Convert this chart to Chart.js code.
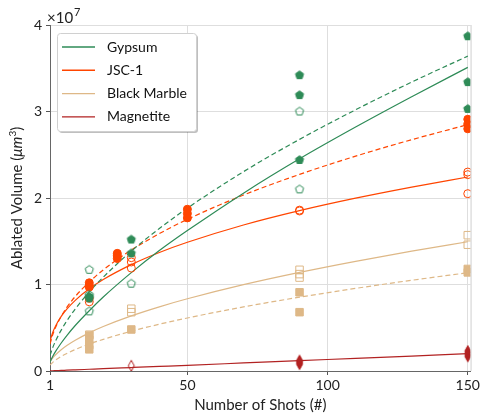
<!DOCTYPE html>
<html>
<head>
<meta charset="utf-8">
<script src="https://cdn.jsdelivr.net/npm/chart.js@4.4.1/dist/chart.umd.min.js"></script>
<style>
  html, body { margin: 0; padding: 0; background: #fff; }
</style>
</head>
<body>
<canvas id="chart" width="482" height="419"></canvas>
<script>
// values in units of 1e7 um^3 (the axis carries the x10^7 factor)
const legendNames = ['Gypsum', 'JSC-1', 'Black Marble', 'Magnetite'];
const colors = ['#2e8b57', '#ff4500', '#deb887', '#b22222'];
const xTicks = [1, 50, 100, 150];
const yTicks = [0, 1, 2, 3, 4];

const gypsumFilledX = [15, 15, 30, 30, 90, 90, 90, 150, 150, 150];
const gypsumFilledY = [0.84, 0.86, 1.52, 1.36, 3.42, 3.19, 2.44, 3.87, 3.34, 3.03];
const gypsumOpenX = [15, 15, 15, 30, 90, 90];
const gypsumOpenY = [1.17, 0.88, 0.69, 1.01, 3.00, 2.10];

const jscFilledX = [15, 15, 15, 25, 25, 25, 50, 50, 50, 150, 150, 150];
const jscFilledY = [1.02, 0.99, 0.97, 1.36, 1.33, 1.30, 1.87, 1.82, 1.77, 2.91, 2.85, 2.80];
const jscOpenX = [15, 15, 30, 30, 30, 90, 90, 150, 150, 150];
const jscOpenY = [0.84, 0.80, 1.31, 1.26, 1.19, 1.86, 1.85, 2.30, 2.27, 2.05];

const marbleFilledX = [15, 15, 15, 15, 30, 90, 90, 150, 150];
const marbleFilledY = [0.41, 0.36, 0.30, 0.25, 0.48, 0.91, 0.68, 1.18, 1.14];
const marbleOpenX = [15, 30, 30, 90, 90, 90, 150, 150];
const marbleOpenY = [0.42, 0.72, 0.68, 1.17, 1.12, 1.08, 1.57, 1.46];

const magnetiteFilledX = [90, 90, 90, 150, 150, 150];
const magnetiteFilledY = [0.08, 0.10, 0.12, 0.17, 0.20, 0.23];
const magnetiteOpenX = [30];
const magnetiteOpenY = [0.06];

// fitted curves at these shot counts
const fitShots = [1, 2, 3, 5, 7, 10, 15, 20, 30, 40, 50, 70, 90, 110, 130, 150];
const gypsumFitSolid = [0.105, 0.171, 0.227, 0.324, 0.410, 0.526, 0.697, 0.855, 1.137, 1.392, 1.623, 2.056, 2.453, 2.82, 3.17, 3.51];
const gypsumFitDashed = [0.18, 0.273, 0.348, 0.473, 0.579, 0.717, 0.914, 1.085, 1.386, 1.647, 1.883, 2.304, 2.678, 3.02, 3.34, 3.64];
const jscFitSolid = [0.346, 0.448, 0.521, 0.631, 0.715, 0.817, 0.950, 1.058, 1.230, 1.370, 1.488, 1.688, 1.854, 1.998, 2.126, 2.243];
const jscFitDashed = [0.311, 0.422, 0.505, 0.633, 0.735, 0.861, 1.029, 1.169, 1.398, 1.588, 1.753, 2.034, 2.273, 2.484, 2.674, 2.848];
const marbleFitSolid = [0.105, 0.152, 0.188, 0.246, 0.295, 0.356, 0.441, 0.514, 0.637, 0.742, 0.835, 0.998, 1.140, 1.268, 1.385, 1.494];
const marbleFitDashed = [0.068, 0.100, 0.126, 0.168, 0.203, 0.248, 0.312, 0.366, 0.460, 0.541, 0.613, 0.741, 0.853, 0.955, 1.049, 1.136];
const magnetiteFit = [0.001, 0.003, 0.004, 0.007, 0.009, 0.013, 0.020, 0.027, 0.040, 0.053, 0.066, 0.093, 0.120, 0.146, 0.173, 0.200];

const FONT = 'Lato, "DejaVu Sans", sans-serif';

const zip = (xs, ys) => xs.map((x, i) => ({ x, y: ys[i] }));

// small canvases for the marker shapes Chart.js does not have
function marker(shape, color, filled) {
  const s = 14;
  const c = document.createElement('canvas');
  c.width = s; c.height = s;
  const g = c.getContext('2d');
  g.translate(s / 2, s / 2);
  g.beginPath();
  if (shape === 'pentagon') {
    const r = 4.3;
    for (let i = 0; i < 5; i++) {
      const a = -Math.PI / 2 + i * 2 * Math.PI / 5;
      g.lineTo(r * Math.cos(a), r * Math.sin(a));
    }
  } else {
    g.moveTo(0, -5.5); g.lineTo(3, 0); g.lineTo(0, 5.5); g.lineTo(-3, 0);
  }
  g.closePath();
  g.lineWidth = 1;
  g.strokeStyle = color;
  if (filled) { g.fillStyle = color; g.fill(); }
  g.stroke();
  return c;
}

function points(xs, ys, color, style, filled, radius) {
  return {
    type: 'scatter',
    data: zip(xs, ys),
    pointStyle: style,
    pointRadius: radius || 4,
    borderWidth: 1,
    borderColor: color,
    backgroundColor: filled ? color : 'rgba(0,0,0,0)',
    order: 0
  };
}

function curve(ys, color, dashed) {
  return {
    type: 'line',
    data: zip(fitShots, ys),
    borderColor: color,
    borderWidth: 1.2,
    borderDash: dashed ? [5, 3] : [],
    pointRadius: 0,
    fill: false,
    cubicInterpolationMode: 'monotone',
    order: 1
  };
}

const frame = {
  id: 'frame',
  afterDraw(chart) {
    const { ctx, chartArea: a } = chart;
    ctx.save();
    // right edge
    ctx.strokeStyle = '#cfcfcf';
    ctx.lineWidth = 1;
    ctx.beginPath();
    ctx.moveTo(a.right + 0.5, a.top);
    ctx.lineTo(a.right + 0.5, a.bottom);
    ctx.stroke();

    ctx.fillStyle = '#222';
    // x title
    ctx.font = '15px ' + FONT;
    ctx.textAlign = 'center';
    ctx.textBaseline = 'alphabetic';
    ctx.fillText('Number of Shots (#)', (a.left + a.right) / 2, 410);

    // y title with italic unit
    const parts = [
      ['Ablated Volume (', '15px ' + FONT, 0],
      ['\u03bcm', 'italic 15px ' + FONT, 0],
      ['3', '10px ' + FONT, -6],
      [')', '15px ' + FONT, 0]
    ];
    let total = 0;
    parts.forEach(p => { ctx.font = p[1]; total += ctx.measureText(p[0]).width; });
    ctx.translate(22, (a.top + a.bottom) / 2);
    ctx.rotate(-Math.PI / 2);
    ctx.textAlign = 'left';
    let px = -total / 2;
    parts.forEach(p => {
      ctx.font = p[1];
      ctx.fillText(p[0], px, p[2]);
      px += ctx.measureText(p[0]).width;
    });
    ctx.setTransform(1, 0, 0, 1, 0, 0);

    // exponent label
    ctx.font = '15px ' + FONT;
    ctx.fillText('\u00d710', 47, 23);
    const w = ctx.measureText('\u00d710').width;
    ctx.font = '11px ' + FONT;
    ctx.fillText('7', 47 + w + 1, 16);

    // legend box
    const bx = 57, by = 33, bw = 139, bh = 98;
    ctx.fillStyle = 'rgba(0,0,0,0.25)';
    ctx.beginPath();
    ctx.roundRect(bx + 2, by + 2, bw, bh, 3);
    ctx.fill();
    ctx.fillStyle = '#fff';
    ctx.strokeStyle = '#d0d0d0';
    ctx.beginPath();
    ctx.roundRect(bx + 0.5, by + 0.5, bw, bh, 3);
    ctx.fill();
    ctx.stroke();

    ctx.font = '14px ' + FONT;
    ctx.textBaseline = 'middle';
    legendNames.forEach((name, i) => {
      const y = 47 + i * 23.3;
      ctx.strokeStyle = colors[i];
      ctx.lineWidth = 1.4;
      ctx.beginPath();
      ctx.moveTo(62, y);
      ctx.lineTo(95, y);
      ctx.stroke();
      ctx.fillStyle = '#111';
      ctx.fillText(name, 107, y);
    });
    ctx.restore();
  }
};

const tickFont = { family: FONT, size: 14 };

new Chart(document.getElementById('chart'), {
  data: {
    datasets: [
      points(gypsumFilledX, gypsumFilledY, colors[0], marker('pentagon', colors[0], true), true),
      points(gypsumOpenX, gypsumOpenY, colors[0], marker('pentagon', colors[0], false), false),
      points(jscFilledX, jscFilledY, colors[1], 'circle', true),
      points(jscOpenX, jscOpenY, colors[1], 'circle', false),
      points(marbleFilledX, marbleFilledY, colors[2], 'rect', true, 5.3),
      points(marbleOpenX, marbleOpenY, colors[2], 'rect', false, 5.3),
      points(magnetiteFilledX, magnetiteFilledY, colors[3], marker('diamond', colors[3], true), true),
      points(magnetiteOpenX, magnetiteOpenY, colors[3], marker('diamond', colors[3], false), false),
      curve(gypsumFitSolid, colors[0], false),
      curve(gypsumFitDashed, colors[0], true),
      curve(jscFitSolid, colors[1], false),
      curve(jscFitDashed, colors[1], true),
      curve(marbleFitSolid, colors[2], false),
      curve(marbleFitDashed, colors[2], true),
      curve(magnetiteFit, colors[3], false)
    ]
  },
  options: {
    responsive: false,
    animation: false,
    events: [],
    layout: { padding: { top: 25, right: 8, left: 0, bottom: 0 } },
    plugins: { legend: { display: false }, tooltip: { enabled: false } },
    scales: {
      x: {
        type: 'linear',
        min: 1,
        max: 151,
        afterBuildTicks: (axis) => { axis.ticks = xTicks.map(v => ({ value: v })); },
        afterFit: (axis) => { axis.height = 48; },
        ticks: { font: tickFont, color: '#222', padding: 2, maxRotation: 0 },
        grid: { color: '#dedede', tickColor: '#555', tickLength: 4 },
        border: { color: '#666', width: 1 }
      },
      y: {
        min: 0,
        max: 4,
        afterBuildTicks: (axis) => { axis.ticks = yTicks.map(v => ({ value: v })); },
        afterFit: (axis) => { axis.width = 50; },
        ticks: { font: tickFont, color: '#222', padding: 4 },
        grid: { color: '#dedede', tickColor: '#555', tickLength: 4 },
        border: { color: '#666', width: 1 }
      }
    }
  },
  plugins: [frame]
});
</script>
</body>
</html>
